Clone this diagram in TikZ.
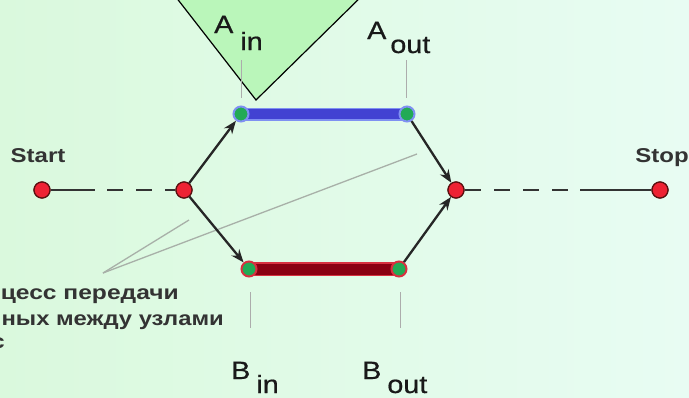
\documentclass[tikz,border=0pt]{standalone}
\usepackage{fontspec}
\setmainfont{Liberation Sans}
\newfontfamily\lblfont[FakeBold=0.6]{Liberation Sans}
\usetikzlibrary{arrows.meta}
\definecolor{bgl}{HTML}{DAF9DD}
\definecolor{bgr}{HTML}{E8FCF3}
\definecolor{trifill}{HTML}{BAF6BA}
\definecolor{nodered}{HTML}{EE2233}
\definecolor{nodeedge}{HTML}{5A1010}
\definecolor{nodegreen}{HTML}{22AA55}
\definecolor{barblue}{HTML}{4242D2}
\definecolor{haloblue}{HTML}{7F90F2}
\definecolor{barred}{HTML}{8A0012}
\definecolor{halored}{HTML}{D83040}
\definecolor{linegray}{HTML}{333333}
\definecolor{textgray}{HTML}{333333}
\definecolor{leadgray}{HTML}{A8B0A8}
\newcommand{\sublbl}[4]{\scalebox{1.15}[1]{#1}\hspace{#3pt}\raisebox{-#4pt}{\scalebox{1.15}[1]{#2}}}
\newcommand{\wtxt}[1]{\scalebox{1.2}[1]{#1}}
\tikzset{
  rnode/.style={circle, fill=nodered, draw=nodeedge, line width=1.2pt, minimum size=16pt, inner sep=0pt},
  gnodeA/.style={circle, fill=nodegreen, draw=haloblue, line width=2pt, minimum size=15pt, inner sep=0pt},
  gnodeB/.style={circle, fill=nodegreen, draw=halored, line width=2pt, minimum size=15pt, inner sep=0pt},
  arr/.style={line width=2.3pt, draw=black!85, -{Stealth[length=13pt,width=10pt]}},
  sline/.style={line width=2.8pt, draw=linegray},
  dline/.style={line width=2.8pt, draw=linegray, dash pattern=on 16pt off 13pt},
  tickline/.style={draw=gray!65, line width=1pt},
  leadline/.style={draw=leadgray, line width=1.3pt},
  txt/.style={inner sep=0pt, font=\fontsize{20}{24}\selectfont\bfseries, text=textgray},
  lbl/.style={inner sep=0pt, font=\fontsize{25}{30}\lblfont, text=black!90, anchor=base west}
}
\begin{document}
\begin{tikzpicture}[x=1pt,y=-1pt]
\useasboundingbox (0,0) rectangle (689,397);
\clip (0,0) rectangle (689,397);
\shade[left color=bgl, right color=bgr] (0,0) rectangle (689,397);
% triangle
\fill[trifill] (172,-8) -- (256,100) -- (366,-8) -- cycle;
\draw[black, line width=1.2pt] (172,-8) -- (256,100) -- (366,-8);
% ticks
\draw[tickline] (241,60) -- (241,98);
\draw[tickline] (406,60) -- (406,98);
\draw[tickline] (250,292) -- (250,328);
\draw[tickline] (400,292) -- (400,328);
% nodes
\node[rnode] (start) at (42,190) {};
\node[rnode] (fork) at (184,190) {};
\node[rnode] (join) at (456,190) {};
\node[rnode] (stop) at (660,190) {};
\coordinate (s1) at (95,190);
\coordinate (s2) at (107,190);
\coordinate (e1) at (465,190);
\coordinate (e2) at (580,190);
\coordinate (ltip) at (103,273);
\coordinate (l1) at (189,220);
\coordinate (l2) at (417,154);
% leader lines
\draw[leadline] (ltip) -- (l1);
\draw[leadline] (ltip) -- (l2);
% bars
\coordinate (ainc) at (241,114);
\coordinate (aoutc) at (407,114);
\coordinate (binc) at (249,269);
\coordinate (boutc) at (399,269);
\draw[haloblue, line width=13pt] (ainc) -- (aoutc);
\draw[barblue, line width=10pt] (ainc) -- (aoutc);
\draw[halored, line width=14pt] (binc) -- (boutc);
\draw[barred, line width=11pt] (binc) -- (boutc);
\node[gnodeA] (ain) at (ainc) {};
\node[gnodeA] (aout) at (aoutc) {};
\node[gnodeB] (bin) at (binc) {};
\node[gnodeB] (bout) at (boutc) {};
% connectors
\draw[sline] (start) -- (s1);
\draw[dline] (s2) -- (fork);
\draw[dline] (e1) -- (e2);
\draw[sline] (e2) -- (stop);
\draw[arr] (fork) -- (ain);
\draw[arr] (fork) -- (bin);
\draw[arr] (aout) -- (join);
\draw[arr] (bout) -- (join);
% red nodes on top
\node[rnode] at (start) {};
\node[rnode] at (fork) {};
\node[rnode] at (join) {};
\node[rnode] at (stop) {};
% labels
\node[txt, anchor=base] (tstart) at (38,162) {\wtxt{Start}};
\node[txt, anchor=base] (tstop) at (662,162) {\wtxt{Stop}};
\node[lbl] (lain) at (214,33) {\sublbl{A}{in}{7}{17}};
\node[lbl] (laout) at (367,39) {\sublbl{A}{out}{4}{14}};
\node[lbl] (lbin) at (231,379) {\sublbl{B}{in}{6}{14}};
\node[lbl] (lbout) at (362,379) {\sublbl{B}{out}{6}{14}};
\node[txt, anchor=base east] (t1) at (179,299) {\scalebox{1.23}[1]{цесс передачи}};
\node[txt, anchor=base east] (t2) at (224,325) {\scalebox{1.19}[1]{ных между узлами}};
\node[txt, anchor=base east] (t3) at (5,348) {\scalebox{1.2}[1]{с}};
\end{tikzpicture}
\end{document}
